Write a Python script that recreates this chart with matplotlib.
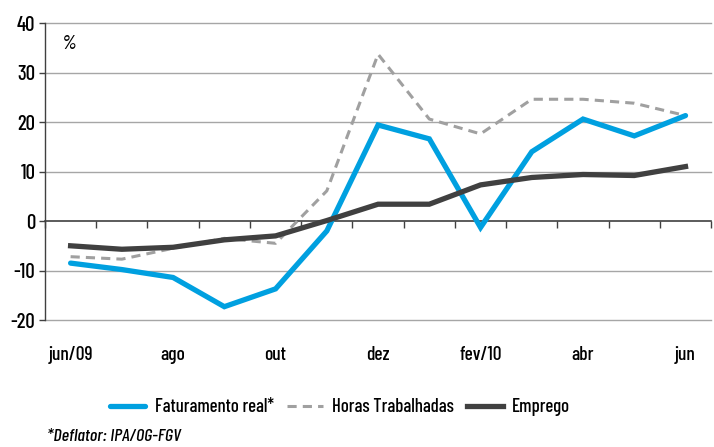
import matplotlib
matplotlib.use("Agg")
import matplotlib.pyplot as plt

plt.rcParams['font.family'] = ['Barlow Condensed', 'DejaVu Sans']
plt.rcParams['font.weight'] = 500

months = ["jun/09", "jul", "ago", "set", "out", "nov", "dez", "jan", "fev/10", "mar", "abr", "mai", "jun"]
tick_labels = ["jun/09", "", "ago", "", "out", "", "dez", "", "fev/10", "", "abr", "", "jun"]
faturamento = [-8.5, -9.8, -11.4, -17.3, -13.7, -2.0, 19.4, 16.6, -1.3, 14.0, 20.6, 17.2, 21.3]
horas = [-7.2, -7.7, -5.5, -3.5, -4.5, 6.1, 33.7, 20.6, 17.6, 24.6, 24.6, 23.8, 21.3]
emprego = [-5.0, -5.7, -5.3, -3.8, -3.0, 0.1, 3.4, 3.4, 7.3, 8.8, 9.4, 9.2, 11.0]

fig = plt.figure(figsize=(7.14, 4.47), dpi=100)
ax = fig.add_axes([0.063, 0.284, 0.933, 0.6645])

x = list(range(len(months)))
ymin, ymax = -20, 40
ax.set_ylim(ymin, ymax)
ax.set_xlim(-0.5, len(months) - 0.5)

for v in range(-20, 41, 10):
    if v != 0:
        ax.axhline(v, color="#a6a6a6", lw=1.0, zorder=1, clip_on=False)

l1, = ax.plot(x, faturamento, color="#00a0e0", lw=3.8, solid_capstyle="round", solid_joinstyle="miter", zorder=4, label="Faturamento real*")
l2, = ax.plot(x, horas, color="#a0a0a0", lw=2.2, ls=(0, (3, 2)), zorder=3, label="Horas Trabalhadas")
l3, = ax.plot(x, emprego, color="#404040", lw=3.8, solid_joinstyle="miter", zorder=5, label="Emprego")

for s in ["top", "right", "bottom"]:
    ax.spines[s].set_visible(False)
ax.spines["left"].set_color("#404040")
ax.spines["left"].set_linewidth(1.0)
ax.set_yticks(range(-20, 41, 10))
ax.set_yticklabels([str(v) for v in range(-20, 41, 10)])
ax.tick_params(axis="y", length=4, width=1, color="#404040", labelsize=15, pad=3)

ax.set_xticks(x)
ax.set_xticklabels(tick_labels)
ax.tick_params(axis="x", length=0, labelsize=14, pad=19)

sec = ax.secondary_xaxis((0 - ymin) / (ymax - ymin))
sec.spines["bottom"].set_color("#404040")
sec.spines["bottom"].set_linewidth(1.2)
sec.set_xticks([i - 0.5 for i in range(len(months) + 1)])
sec.set_xticklabels([])
sec.tick_params(axis="x", length=5, width=1, color="#404040", direction="out")

ax.text(0.026, 0.93, "%", transform=ax.transAxes, fontsize=14, style="italic", va="center")

fig.legend(handles=[l1, l2, l3], loc="center", bbox_to_anchor=(0.476, 0.089), ncol=3, frameon=False,
           fontsize=13.5, handlelength=1.9, handletextpad=0.5, columnspacing=0.7)

fig.text(0.066, 0.023, "*Deflator: IPA/OG-FGV", fontsize=13, style="italic", va="center")

fig.savefig("out.png", dpi=100)
